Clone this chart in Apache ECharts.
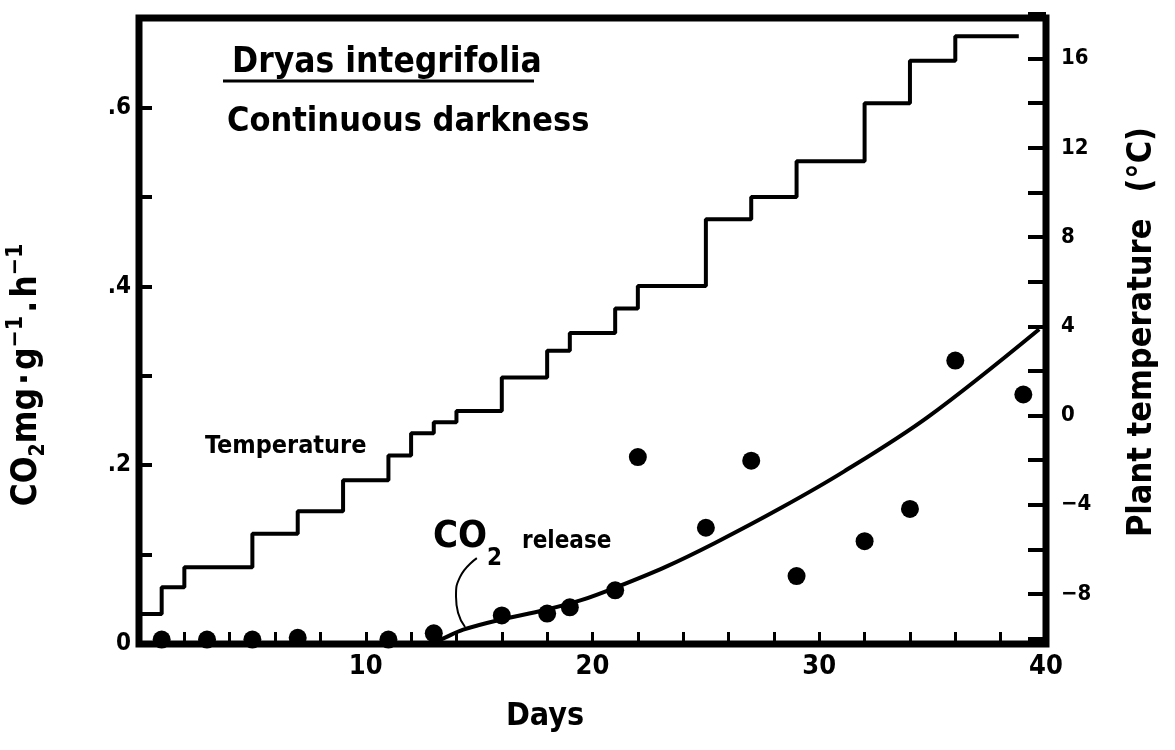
<!DOCTYPE html>
<html>
<head>
<meta charset="utf-8">
<script src="https://cdn.jsdelivr.net/npm/echarts@6/dist/echarts.min.js"></script>
<style>
  html, body { margin: 0; padding: 0; background: #fff; }
  #chart { width: 1175px; height: 750px; }
</style>
</head>
<body>
<div id="chart"></div>
<script>
// CO2 release of Dryas integrifolia kept in continuous darkness (measured points)
const sampleDays = [1, 3, 5, 7, 11, 13, 16, 18, 19, 21, 22, 25, 27, 29, 32, 34, 36, 39];
const sampleCO2  = [0.005, 0.005, 0.005, 0.007, 0.005, 0.012, 0.032, 0.034, 0.041, 0.060,
                    0.209, 0.130, 0.205, 0.076, 0.115, 0.151, 0.317, 0.279];

// hand-drawn trend of CO2 release
const trendDays = [12.5, 13.2, 14.3, 15.9, 17.9, 19.5, 21.0, 23.2, 25.4, 28.3, 31.1, 34.8, 39.7];
const trendCO2  = [0, 0.004, 0.016, 0.027, 0.038, 0.049, 0.063, 0.086, 0.113, 0.152, 0.193, 0.254, 0.352];

// plant temperature programme: each level starts on the given day
const tempStepDays = [0, 1, 2, 5, 7, 9, 11, 12, 13, 14, 16, 18, 19, 21, 22, 25, 27, 29, 32, 34, 36, 38.8];
const tempStepC    = [-8.9, -7.7, -6.8, -5.3, -4.3, -2.9, -1.8, -0.8, -0.3, 0.2, 1.7, 2.9, 3.7, 4.8,
                      5.8, 8.8, 9.8, 11.4, 14.0, 15.9, 17.0, 17.0];

// thin pointer from the "CO2 release" caption to the trend line
const leaderDays = [14.9, 14.16, 13.98, 14.07, 14.38];
const leaderCO2  = [0.096, 0.075, 0.053, 0.035, 0.019];

// axis tick labels
const dayLabels  = [10, 20, 30, 40];
const co2Labels  = ['0', '.2', '.4', '.6'];
const tempLabels = [-8, -4, 0, 4, 8, 12, 16];

const FONT = "'Liberation Sans Narrow', 'DejaVu Sans Condensed', 'Arial Narrow', sans-serif";
const INK = '#000';

const zip = (a, b) => a.map((v, i) => [v, b[i]]);

const chart = echarts.init(document.getElementById('chart'), null, { renderer: 'canvas' });

const boldText = (size) => ({ fontFamily: FONT, fontWeight: 'bold', fontSize: size, color: INK });

const option = {
  animation: false,
  backgroundColor: '#fff',
  grid: [
    { left: 139, right: 129, top: 18, bottom: 106, show: true,
      borderColor: INK, borderWidth: 7, backgroundColor: 'transparent' },
    { left: 139, right: 129, top: 14, bottom: 111.5, show: false }
  ],
  xAxis: [
    {
      gridIndex: 0, type: 'value', min: 0, max: 40, interval: 2, position: 'bottom',
      axisLine: { show: false, onZero: false },
      axisTick: { show: true, inside: true, length: 12, lineStyle: { color: INK, width: 3 } },
      axisLabel: Object.assign(boldText(27), {
        margin: 9,
        formatter: (v) => dayLabels.includes(v) ? String(v) : ''
      }),
      splitLine: { show: false }
    },
    { gridIndex: 1, type: 'value', min: 0, max: 40, show: false, axisLine: { onZero: false } }
  ],
  yAxis: [
    {
      gridIndex: 0, type: 'value', position: 'left', min: 0, max: 0.7, interval: 0.1,
      axisLine: { show: false, onZero: false },
      axisTick: { show: true, inside: true, length: 13, lineStyle: { color: INK, width: 4 } },
      axisLabel: Object.assign(boldText(24), {
        margin: 8,
        formatter: (v) => {
          const k = Math.round(v * 10);
          return (k % 2 === 0 && k / 2 < co2Labels.length) ? co2Labels[k / 2] : '';
        }
      }),
      splitLine: { show: false }
    },
    {
      gridIndex: 1, type: 'value', position: 'right', min: -10, max: 18, interval: 2,
      axisLine: { show: false, onZero: false },
      axisTick: { show: true, inside: true, length: 18, lineStyle: { color: INK, width: 4 } },
      axisLabel: Object.assign(boldText(22), {
        margin: 15, align: 'left',
        formatter: (v) => tempLabels.includes(v) ? (v < 0 ? '\u2212' + Math.abs(v) : String(v)) : ''
      }),
      splitLine: { show: false }
    }
  ],
  series: [
    {
      name: 'Temperature', type: 'line', xAxisIndex: 1, yAxisIndex: 1,
      data: zip(tempStepDays, tempStepC), step: 'end', symbol: 'none', silent: true,
      lineStyle: { color: INK, width: 4 }, z: 3
    },
    {
      name: 'CO2 release trend', type: 'line', xAxisIndex: 0, yAxisIndex: 0,
      data: zip(trendDays, trendCO2), smooth: 0.35, symbol: 'none', silent: true,
      lineStyle: { color: INK, width: 4 }, z: 3
    },
    {
      name: 'CO2 release', type: 'scatter', xAxisIndex: 0, yAxisIndex: 0,
      data: zip(sampleDays, sampleCO2), symbol: 'circle', symbolSize: 18,
      itemStyle: { color: INK, opacity: 1 }, z: 4
    },
    {
      name: 'pointer', type: 'line', xAxisIndex: 0, yAxisIndex: 0,
      data: zip(leaderDays, leaderCO2), smooth: 0.5, symbol: 'none', silent: true,
      lineStyle: { color: INK, width: 2 }, z: 3
    }
  ],
  graphic: [
    { type: 'text', x: 232, y: 63, style: { text: 'Dryas integrifolia', fill: INK,
      font: "bold 35px " + FONT, align: 'left', verticalAlign: 'middle' } },
    { type: 'line', shape: { x1: 223, y1: 81, x2: 534, y2: 81 }, style: { stroke: INK, lineWidth: 3 } },
    { type: 'text', x: 227, y: 122, style: { text: 'Continuous darkness', fill: INK,
      font: "bold 34px " + FONT, align: 'left', verticalAlign: 'middle' } },
    { type: 'text', x: 205, y: 446, style: { text: 'Temperature', fill: INK,
      font: "bold 25px " + FONT, align: 'left', verticalAlign: 'middle' } },
    { type: 'text', x: 433, y: 537, style: { text: 'CO', fill: INK,
      font: "bold 38px " + FONT, align: 'left', verticalAlign: 'middle' } },
    { type: 'text', x: 487, y: 559, style: { text: '2', fill: INK,
      font: "bold 24px " + FONT, align: 'left', verticalAlign: 'middle' } },
    { type: 'text', x: 522, y: 542, style: { text: 'release', fill: INK,
      font: "bold 24px " + FONT, align: 'left', verticalAlign: 'middle' } },
    { type: 'text', x: 545, y: 717, style: { text: 'Days', fill: INK,
      font: "bold 32px " + FONT, align: 'center', verticalAlign: 'middle' } },
    {
      type: 'text', x: 27, y: 375, rotation: Math.PI / 2,
      style: {
        text: '{n|CO}{s|2}{n|mg}{d|\u00b7}{n|g}{p|\u22121}{d|.}{n|h}{p|\u22121}',
        fill: INK, align: 'center', verticalAlign: 'middle',
        rich: {
          n: { fontFamily: FONT, fontWeight: 'bold', fontSize: 35, lineHeight: 44, fill: INK },
          s: { fontFamily: FONT, fontWeight: 'bold', fontSize: 21, lineHeight: 18, verticalAlign: 'bottom', fill: INK },
          p: { fontFamily: FONT, fontWeight: 'bold', fontSize: 23, lineHeight: 30, verticalAlign: 'top', fill: INK },
          d: { fontFamily: FONT, fontWeight: 'bold', fontSize: 35, lineHeight: 44, padding: [0, 3, 0, 3], fill: INK }
        }
      }
    },
    {
      type: 'text', x: 1142, y: 332, rotation: Math.PI / 2,
      style: {
        text: '{a|Plant temperature}{b|(\u00b0C)}',
        fill: INK, align: 'center', verticalAlign: 'middle',
        rich: {
          a: { fontFamily: FONT, fontWeight: 'bold', fontSize: 34, lineHeight: 44, fill: INK },
          b: { fontFamily: FONT, fontWeight: 'bold', fontSize: 34, lineHeight: 44, padding: [0, 0, 0, 26], fill: INK }
        }
      }
    }
  ]
};

chart.setOption(option);
</script>
</body>
</html>
